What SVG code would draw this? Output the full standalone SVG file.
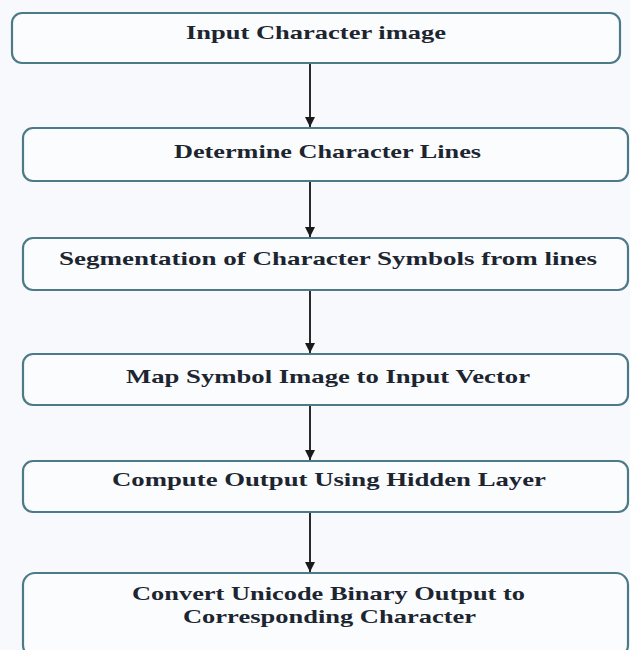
<svg xmlns="http://www.w3.org/2000/svg" width="630" height="650" viewBox="0 0 630 650">
<style>
.box{fill:#fbfcfe;stroke:#4d7a88;stroke-width:2.2}
.lbl{font-family:"Liberation Serif","Times New Roman",serif;font-weight:bold;font-size:19px;fill:#1c2530}
.conn{stroke:#2a2a2a;stroke-width:2;fill:none;marker-end:url(#ah)}
</style>
<defs>
<marker id="ah" viewBox="0 0 10 10" refX="10" refY="5" markerWidth="10" markerHeight="10" markerUnits="userSpaceOnUse" orient="auto">
<path d="M0,0 L10,5 L0,10 Z" fill="#1a1a1a"/>
</marker>
</defs>
<rect x="0" y="0" width="630" height="650" fill="#f8f9fc"/>
<g id="connectors">
<line class="conn" x1="310" y1="64" x2="310" y2="127"/>
<line class="conn" x1="310" y1="181" x2="310" y2="237"/>
<line class="conn" x1="310" y1="291" x2="310" y2="353"/>
<line class="conn" x1="310" y1="406" x2="310" y2="460"/>
<line class="conn" x1="310" y1="513" x2="310" y2="572"/>
</g>
<g id="n1">
<rect class="box" x="12" y="13" width="608" height="50" rx="10"/>
<text class="lbl" x="186" y="39" textLength="260" lengthAdjust="spacingAndGlyphs">Input Character image</text>
</g>
<g id="n2">
<rect class="box" x="23" y="128" width="605" height="53" rx="10"/>
<text class="lbl" x="174" y="158" textLength="307" lengthAdjust="spacingAndGlyphs">Determine Character Lines</text>
</g>
<g id="n3">
<rect class="box" x="23" y="238" width="605" height="52" rx="10"/>
<text class="lbl" x="59" y="265" textLength="538" lengthAdjust="spacingAndGlyphs">Segmentation of  Character Symbols from lines</text>
</g>
<g id="n4">
<rect class="box" x="23" y="354" width="605" height="51" rx="10"/>
<text class="lbl" x="126" y="383" textLength="404" lengthAdjust="spacingAndGlyphs">Map Symbol Image to Input Vector</text>
</g>
<g id="n5">
<rect class="box" x="23" y="461" width="605" height="51" rx="10"/>
<text class="lbl" x="112" y="486" textLength="434" lengthAdjust="spacingAndGlyphs">Compute Output  Using Hidden Layer</text>
</g>
<g id="n6">
<rect class="box" x="23" y="573" width="605" height="84" rx="12"/>
<text class="lbl" x="132" y="600" textLength="393" lengthAdjust="spacingAndGlyphs">Convert Unicode Binary Output  to</text>
<text class="lbl" x="183" y="623" textLength="293" lengthAdjust="spacingAndGlyphs">Corresponding Character</text>
</g>
</svg>
